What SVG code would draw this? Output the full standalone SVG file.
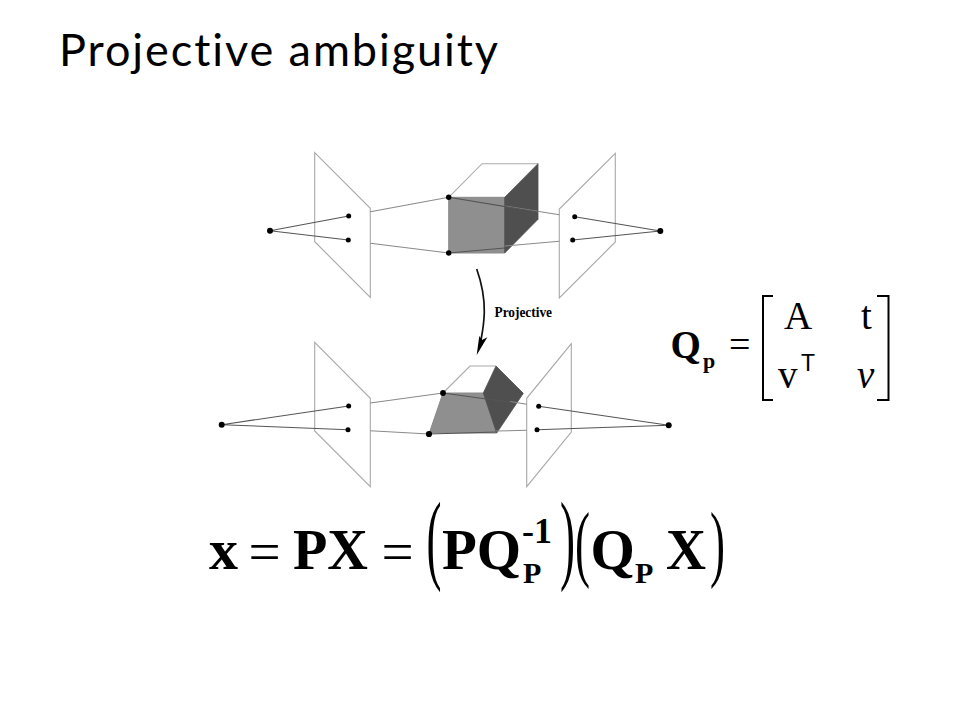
<svg xmlns="http://www.w3.org/2000/svg" width="960" height="720" viewBox="0 0 960 720">
<style>
.plane{fill:none;stroke:#a8a8a8;stroke-width:1.1}
.ray{fill:none;stroke:#8a8a8a;stroke-width:1.1}
.dark{fill:none;stroke:#555;stroke-width:1.1}
.pt{fill:#000}
.edge{fill:none;stroke:#aaa;stroke-width:1.1}
.front{fill:#8f8f8f;stroke:#8a8a8a;stroke-width:1}
.side{fill:#4f4f4f;stroke:#4f4f4f;stroke-width:.8}
.s{font-family:"Liberation Serif","Times New Roman",serif}
.b{font-weight:bold}
text{fill:#000}
</style>
<rect width="960" height="720" fill="#fff"/>
<text id="title" x="59" y="66" font-family="Lato,'Open Sans',sans-serif" font-size="45" textLength="439" style="font-variant-ligatures:none">Projective ambiguity</text>

<g id="top-scene">
<g id="top-left-plane"><path class="plane" d="M314.7 152.7L370.3 208.3V297.3L314.7 241.7Z"/></g>
<g id="top-right-plane"><path class="plane" d="M615.3 153.3L559.3 209V298L615.3 242Z"/></g>
<g id="top-cube">
<path class="edge" d="M448.7 197.3L482 163.7H538"/>
<path class="front" d="M448.7 197.3H504.7V253H448.7Z"/>
<path class="side" d="M504.7 197.3L538 163.7V219.3L504.7 253Z"/>
</g>
<g id="top-connectors">
<path class="dark" d="M270 230.7L348.7 216M270 230.7L348.3 240M660.3 231L574.7 216.7M660.3 231L572.7 240"/>
<path class="ray" d="M370.3 211.7L448.7 197.3M370.3 243.3L448.7 253M559.3 214.7L504.7 206M559.3 241.3L504.7 246"/>
<path class="dark" d="M448.7 197.3L538 212M448.7 253L504.7 248"/>
</g>
<g id="top-points">
<circle class="pt" cx="270" cy="230.7" r="3"/><circle class="pt" cx="348.7" cy="216" r="2.500"/><circle class="pt" cx="348.3" cy="240" r="2.500"/>
<circle class="pt" cx="448.7" cy="197.3" r="2.700"/><circle class="pt" cx="448.7" cy="253" r="2.700"/>
<circle class="pt" cx="574.7" cy="216.7" r="2.500"/><circle class="pt" cx="572.7" cy="240" r="2.500"/><circle class="pt" cx="660.3" cy="231" r="3"/>
</g>
</g>

<g id="transform">
<path d="M476.7 269C482 284 484.500 298 484.300 312C484.100 323 482.500 332 481 340" fill="none" stroke="#111" stroke-width="1.700"/>
<path d="M476.700 355L479.300 336L482 340L487.300 337.300Z" fill="#000"/>
<text class="s b" x="494.500" y="316.500" font-size="14" textLength="57.500" lengthAdjust="spacingAndGlyphs">Projective</text>
</g>

<g id="bottom-scene">
<g id="bottom-left-plane"><path class="plane" d="M314.7 342.3L370.3 398.3V486.7L314.7 431Z"/></g>
<g id="bottom-right-plane"><path class="plane" d="M571.3 343.7L526.7 398.3V486.7L571.3 432Z"/></g>
<g id="bottom-cube">
<path class="edge" d="M443 393L470 366H496"/>
<path class="front" d="M443 393H483.3L496.7 433H429.3Z"/>
<path class="side" d="M483.3 393L496 366L523.3 393.3L496.7 433Z"/>
</g>
<g id="bottom-connectors">
<path class="dark" d="M221.7 424.7L348.7 406M221.7 424.7L348 429.7M668.7 425.3L538.7 406.3M668.7 425.3L537 429.7"/>
<path class="ray" d="M370.3 403L443 393M370.3 430.7L429 434M526.7 404.3L510 401.5M526.7 430.3L496 431"/>
<path class="dark" d="M443 393L512 402.5M429 434L496.7 432"/>
</g>
<g id="bottom-points">
<circle class="pt" cx="221.7" cy="424.7" r="3"/><circle class="pt" cx="348.7" cy="406" r="2.500"/><circle class="pt" cx="348" cy="429.7" r="2.500"/>
<circle class="pt" cx="443" cy="393" r="2.900"/><circle class="pt" cx="429" cy="434" r="3.100"/>
<circle class="pt" cx="538.7" cy="406.3" r="2.500"/><circle class="pt" cx="537" cy="429.7" r="2.500"/><circle class="pt" cx="668.7" cy="425.3" r="3"/>
</g>
</g>

<g id="matrix">
<text class="s b" x="670.500" y="358" font-size="39">Q</text>
<text class="s b" x="703" y="368" font-size="22">p</text>
<text class="s" x="729" y="357" font-size="38">=</text>
<path d="M773 296H763V400H773M877 296H888.500V400H877" fill="none" stroke="#000" stroke-width="2"/>
<text class="s" x="784" y="329" font-size="39">A</text>
<text class="s" x="861" y="329" font-size="39">t</text>
<text class="s" x="778" y="388" font-size="39">v</text>
<text x="801" y="371" font-family="'Liberation Sans',Arial,sans-serif" font-size="23">T</text>
<text class="s" x="857" y="388" font-size="39" font-style="italic">v</text>
</g>

<g id="equation">
<text class="s b" x="209" y="569" font-size="58">x</text>
<text class="s" x="248.500" y="571" font-size="57">=</text>
<text class="s b" x="293" y="569" font-size="58" textLength="75" lengthAdjust="spacingAndGlyphs">PX</text>
<text class="s" x="381.500" y="571" font-size="57">=</text>
<text class="s" transform="translate(426.500 571) scale(.45 1)" font-size="100">(</text>
<text class="s b" x="442" y="569" font-size="57">P</text>
<text class="s b" x="476.800" y="569" font-size="57">Q</text>
<text class="s b" x="522" y="543" font-size="36">-1</text>
<text class="s b" x="523" y="583" font-size="30">P</text>
<text class="s" transform="translate(560 571) scale(.45 1)" font-size="100">)</text>
<text class="s" transform="translate(575 570.500) scale(.45 .85)" font-size="100">(</text>
<text class="s b" x="590.500" y="569" font-size="57">Q</text>
<text class="s b" x="635" y="583" font-size="30">P</text>
<text class="s b" x="666" y="569" font-size="58" textLength="40" lengthAdjust="spacingAndGlyphs">X</text>
<text class="s" transform="translate(710 570.500) scale(.45 .85)" font-size="100">)</text>
</g>
</svg>
